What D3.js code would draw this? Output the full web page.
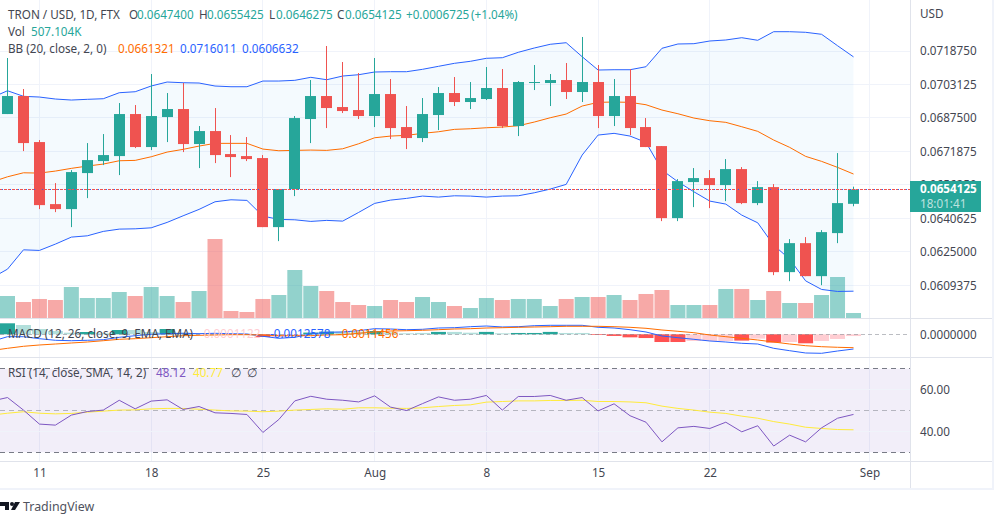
<!DOCTYPE html>
<html>
<head>
<meta charset="utf-8">
<script src="https://cdn.jsdelivr.net/npm/d3@7"></script>
<style>
  html, body { margin: 0; padding: 0; background: #fff; }
  svg { display: block; }
  text { font-family: "Noto Sans", sans-serif; font-size: 11.7px; }
</style>
</head>
<body>
<svg id="chart" width="1002" height="524"></svg>
<script>
// candles, Jul 9 .. Aug 31
var opens = [.068932,.069773,.067624,.064728,.064495,.066176,.066737,.066970,.068932,.067391,.068792,.069166,.067531,.068138,.067064,.066970,.066877,.063654,.065429,.068699,.069773,.069259,.069119,.068839,.069866,.068325,.067811,.068886,.069913,.069493,.069633,.070147,.068372,.070380,.070380,.070520,.069960,.070427,.068839,.069773,.068325,.067437,.064074,.065756,.065943,.065616,.066363,.064775,.065522,.061552,.062906,.061365,.063374,.0647400];
var highs = [.071548,.070100,.067718,.065709,.066316,.067577,.067998,.069446,.069352,.070800,.069913,.070380,.068372,.069212,.067951,.067858,.067017,.065429,.068839,.070520,.072108,.071361,.070847,.071548,.070567,.069306,.069679,.070193,.070660,.070427,.071127,.071034,.070473,.071221,.070800,.071314,.072529,.071221,.070567,.071034,.068745,.067437,.065896,.066410,.066316,.066830,.066456,.065802,.065662,.063093,.063187,.063514,.067110,.0655425];
var lows = [.068932,.067204,.064495,.064354,.063654,.065008,.066550,.066083,.067344,.067250,.067624,.067157,.066410,.066643,.065989,.066737,.063654,.063000,.065102,.067577,.068278,.068979,.068699,.068325,.067764,.067297,.067624,.068185,.069306,.069166,.069586,.068278,.067904,.070053,.069306,.069633,.069493,.068278,.068372,.067951,.067391,.063934,.063934,.064588,.064541,.064868,.064728,.064681,.061412,.061131,.061365,.060945,.062906,.0646275];
var closes = [.069773,.067577,.064681,.064495,.066223,.066783,.067017,.068932,.067391,.068839,.069166,.067531,.068138,.067017,.066924,.066830,.063654,.065429,.068745,.069773,.069212,.069072,.068839,.069866,.068278,.067811,.068932,.069913,.069493,.069679,.070147,.068372,.070427,.070427,.070520,.069960,.070427,.068839,.069773,.068278,.067391,.064074,.065802,.065943,.065616,.066363,.064775,.065522,.061552,.062906,.061365,.063420,.064775,.0654125];
var volumes = [2231,1622,1927,1825,3143,2028,2028,2636,2231,3143,2231,1622,2738,8011,710,608,1927,2332,4867,3245,2738,1622,1318,1217,1825,1622,2129,1622,1217,1014,2028,1825,1927,1927,1217,1927,2129,2129,2332,1825,2434,2839,1318,1318,1318,2941,2941,1825,2738,1521,1521,2332,4157,507.104];

// indicators start one day earlier (Jul 8), that point sits off the left edge
var bbUpper = [.069693,.070020,.069759,.069726,.069633,.069586,.069619,.069647,.069927,.069974,.070240,.070427,.070394,.070380,.070240,.070207,.070207,.070473,.070473,.070506,.070646,.070534,.070707,.070768,.070894,.070908,.070908,.071020,.071160,.071300,.071394,.071534,.071562,.071814,.072015,.072188,.072262,.071609,.070987,.071001,.071001,.071141,.072001,.072202,.072216,.072342,.072389,.072496,.072375,.072776,.072776,.072748,.072655,.072122,.0716011];
var bbMiddle = [.065756,.066003,.066190,.066176,.066270,.066396,.066503,.066597,.066751,.066769,.066937,.067157,.067283,.067437,.067563,.067563,.067563,.067297,.067218,.067236,.067250,.067236,.067311,.067545,.067825,.067904,.067937,.068031,.068105,.068217,.068245,.068292,.068325,.068386,.068558,.068759,.068932,.069306,.069478,.069493,.069478,.069366,.069119,.068946,.068745,.068619,.068544,.068339,.068124,.067718,.067377,.066956,.066723,.066442,.0661321];
var bbLower = [.061272,.061692,.062593,.062565,.062860,.063187,.063247,.063453,.063560,.063574,.063621,.063873,.064182,.064481,.064836,.064929,.064901,.064168,.064013,.063995,.063920,.063967,.063934,.064340,.064761,.064915,.064994,.065102,.065055,.065116,.065102,.065055,.065102,.065116,.065256,.065429,.065648,.067017,.067951,.068031,.067904,.067610,.066316,.065770,.065303,.064868,.064728,.064214,.063855,.062813,.062159,.061145,.060744,.060650,.0606632];

var macdLine = [-.000616,-.000205,-.000205,-.000376,-.000513,-.000548,-.000513,-.000462,-.000257,-.000120,0,.000051,.000086,.000051,.000086,.000051,.000026,-.000171,-.000342,-.000257,.000026,.000171,.000197,.000308,.000479,.000453,.000394,.000428,.000539,.000565,.000650,.000710,.000625,.000650,.000736,.000770,.000770,.000770,.000599,.000539,.000394,.000197,-.000145,-.000291,-.000428,-.000573,-.000659,-.000770,-.000830,-.001198,-.001403,-.001600,-.001626,-.001429,-.0012578];
var macdSignal = [-.001386,-.001198,-.001027,-.000915,-.000830,-.000744,-.000659,-.000548,-.000428,-.000376,-.000291,-.000205,-.000120,-.000086,-.000060,-.000034,-.000034,-.000060,-.000120,-.000120,-.000120,-.000060,-.000034,.000086,.000197,.000282,.000308,.000342,.000394,.000453,.000479,.000539,.000565,.000599,.000625,.000650,.000684,.000684,.000684,.000650,.000599,.000513,.000368,.000257,.000137,-.000060,-.000205,-.000342,-.000488,-.000659,-.000830,-.000975,-.001061,-.001112,-.0011456];
var macdHist = [.000941,.000796,.000453,.000282,.000137,.000197,.000086,.000368,.000368,.000197,.000453,.000137,.000086,.00004,.00003,.00003,-.000231,-.000222,-.000137,.000146,.000231,.000231,.000222,.000282,.000171,.000086,.000117,.000205,.000205,.000137,.000205,.000086,.000114,.000114,.000205,.000114,.000114,-.00006,-.00014,-.00026,-.00032,-.00066,-.00066,-.00057,-.00057,-.00057,-.00054,-.00037,-.00071,-.00066,-.00077,-.00057,-.00040,-.00015];
var macdHistDark = [1,0,0,0,0,1,0,1,0,0,1,0,0,0,0,0,1,0,0,1,1,0,0,1,0,0,0,1,0,0,1,0,1,1,1,0,0,1,1,1,1,1,1,0,0,0,1,0,1,0,1,0,0,0];

var rsiLine = [54.5,56.2,50.2,43.5,43.0,47.8,49.5,50.2,54.9,50.8,54.5,55.1,50.5,51.9,48.9,48.6,48.1,39.5,45.7,54.6,56.8,55.4,54.9,54.1,57.0,51.6,50.0,53.3,56.5,54.9,55.4,57.2,50.2,56.7,56.7,57.2,54.9,56.2,49.8,53.2,47.5,44.4,35.0,41.7,42.4,41.4,44.4,39.8,42.7,33.0,38.2,35.0,41.7,46.3,48.12];
var rsiSma = [47.8,48.7,49.4,48.7,48.4,48.6,49.2,49.7,50.2,50.3,50.8,51.0,51.0,50.6,50.2,49.8,49.7,49.4,49.7,50.2,50.5,50.8,50.6,51.3,51.3,51.1,51.0,51.3,51.9,52.4,52.7,54.0,54.3,54.6,54.6,54.8,54.8,54.9,54.3,54.3,54.1,53.7,52.1,51.0,50.2,49.2,48.6,47.3,46.3,44.7,43.5,42.0,41.4,40.9,40.77];

var timeTicks = [2, 9, 16, 23, 30, 37, 44, 54];
var timeLabels = ["11", "18", "25", "Aug", "8", "15", "22", "Sep"];
var priceTicks = [.071875, .0703125, .06875, .0671875, .065625, .0640625, .0625, .0609375];
var macdTicks = [0];
var rsiTicks = [60, 40];

var green = "#26a69a", red = "#ef5350", blue = "#2962ff", orange = "#ff6d00",
    purple = "#7e57c2", yellow = "#ffeb3b", textColor = "#434651", gridColor = "#f0f3fa", lineColor = "#e0e3eb";
var paneRight = 910, axisRight = 992;

var svg = d3.select("#chart");
var crisp = function(v) { return Math.round(v - 0.5) + 0.5; };

var x = d3.scaleLinear().domain([0, 53]).range([7.5, 853.5]);
var yPrice = d3.scaleLinear().domain([.071875, .0609375]).range([51, 285.3]);
var yVol = d3.scaleLinear().domain([0, 8011]).range([318, 239]);
var yMacd = d3.scaleLinear().domain([0, -.0012578]).range([334.3, 349]);
var yRsi = d3.scaleLinear().domain([70, 30]).range([368.7, 452.3]);

// indicator arrays hold Jul 8 at position 0
var xInd = function(d, i) { return x(i - 1); };
var days = d3.range(opens.length);
var isUp = function(i) { return closes[i] >= opens[i]; };

svg.append("clipPath").attr("id", "pane").append("rect")
    .attr("width", paneRight).attr("height", 490);
var plot = svg.append("g").attr("clip-path", "url(#pane)");

// grid
plot.selectAll(".vgrid").data(timeTicks).enter().append("line")
    .attr("x1", function(d) { return crisp(x(d)); })
    .attr("x2", function(d) { return crisp(x(d)); })
    .attr("y1", 0).attr("y2", 461)
    .attr("stroke", gridColor);
function hgrid(ticks, scale) {
    plot.append("g").selectAll("line").data(ticks).enter().append("line")
        .attr("x1", 0).attr("x2", paneRight)
        .attr("y1", function(d) { return crisp(scale(d)); })
        .attr("y2", function(d) { return crisp(scale(d)); })
        .attr("stroke", gridColor);
}
hgrid(priceTicks, yPrice);

// volume
plot.append("g").selectAll("rect").data(days).enter().append("rect")
    .attr("x", function(i) { return x(i) - 7.5; })
    .attr("width", 15)
    .attr("y", function(i) { return yVol(volumes[i]); })
    .attr("height", function(i) { return 318 - yVol(volumes[i]); })
    .attr("fill", function(i) { return isUp(i) ? green : red; })
    .attr("fill-opacity", 0.5);

// bollinger bands
var bandArea = d3.area().x(xInd)
    .y0(function(d, i) { return yPrice(bbLower[i]); })
    .y1(function(d, i) { return yPrice(d); });
plot.append("path").attr("d", bandArea(bbUpper)).attr("fill", "#2196f3").attr("fill-opacity", 0.05);

function drawLine(values, scale, color) {
    var line = d3.line().x(xInd).y(function(d) { return scale(d); });
    plot.append("path").attr("d", line(values))
        .attr("fill", "none").attr("stroke", color).attr("stroke-width", 1);
}
drawLine(bbUpper, yPrice, blue);
drawLine(bbLower, yPrice, blue);
drawLine(bbMiddle, yPrice, orange);

// candles
var candles = plot.append("g").selectAll("g").data(days).enter().append("g")
    .attr("fill", function(i) { return isUp(i) ? green : red; });
candles.append("rect")
    .attr("x", function(i) { return Math.round(x(i) - 0.5); })
    .attr("width", 1)
    .attr("y", function(i) { return yPrice(highs[i]); })
    .attr("height", function(i) { return yPrice(lows[i]) - yPrice(highs[i]); });
candles.append("rect")
    .attr("x", function(i) { return Math.round(x(i) - 0.5) - 5; })
    .attr("width", 11)
    .attr("y", function(i) { return yPrice(Math.max(opens[i], closes[i])); })
    .attr("height", function(i) { return Math.max(1, Math.abs(yPrice(opens[i]) - yPrice(closes[i]))); });

// last price line: mostly red dots, a blue pixel in each
var lastY = crisp(yPrice(closes[closes.length - 1]));
[[red, "3 1", 0], [blue, "1 7", -2]].forEach(function(s) {
    plot.append("line").attr("x1", 0).attr("x2", paneRight).attr("y1", lastY).attr("y2", lastY)
        .attr("stroke", s[0]).attr("stroke-dasharray", s[1]).attr("stroke-dashoffset", s[2]);
});

// macd pane
plot.append("g").selectAll("rect").data(macdHist).enter().append("rect")
    .attr("x", function(d, i) { return x(i) - 7.5; })
    .attr("width", 15)
    .attr("y", function(d) { return yMacd(Math.max(d, 0)); })
    .attr("height", function(d) { return Math.abs(yMacd(d) - yMacd(0)); })
    .attr("fill", function(d, i) {
        if (d >= 0) return macdHistDark[i] ? green : "#b2dfdb";
        return macdHistDark[i] ? "#ff5252" : "#ffcdd2";
    });
plot.append("line").attr("x1", 0).attr("x2", paneRight)
    .attr("y1", crisp(yMacd(0))).attr("y2", crisp(yMacd(0)))
    .attr("stroke", "#787b86").attr("stroke-opacity", 0.5).attr("stroke-dasharray", "4 3");
drawLine(macdLine, yMacd, blue);
drawLine(macdSignal, yMacd, orange);

// rsi pane
plot.append("rect").attr("x", 0).attr("width", paneRight)
    .attr("y", yRsi(70)).attr("height", yRsi(30) - yRsi(70))
    .attr("fill", purple).attr("fill-opacity", 0.1);
hgrid(rsiTicks, yRsi);
[[70, 1], [50, 0.5], [30, 1]].forEach(function(b) {
    plot.append("line").attr("x1", 0).attr("x2", paneRight)
        .attr("y1", crisp(yRsi(b[0]))).attr("y2", crisp(yRsi(b[0])))
        .attr("stroke", "#787b86").attr("stroke-opacity", b[1]).attr("stroke-dasharray", "5 4");
});
drawLine(rsiSma, yRsi, yellow);
drawLine(rsiLine, yRsi, purple);

// frame
var frame = svg.append("g").attr("stroke", lineColor);
frame.append("line").attr("x1", 0).attr("x2", axisRight).attr("y1", 318.5).attr("y2", 318.5);
frame.append("line").attr("x1", 0).attr("x2", axisRight).attr("y1", 357.5).attr("y2", 357.5);
frame.append("line").attr("x1", 0).attr("x2", axisRight).attr("y1", 461.5).attr("y2", 461.5);
frame.append("line").attr("x1", paneRight + 0.5).attr("x2", paneRight + 0.5).attr("y1", 0).attr("y2", 488);
svg.append("rect").attr("x", 0).attr("y", 488).attr("width", 994).attr("height", 2).attr("fill", gridColor);
svg.append("rect").attr("x", 992).attr("y", 0).attr("width", 2).attr("height", 490).attr("fill", gridColor);

// axes
function priceAxis(scale, ticks, fmt) {
    var g = svg.append("g").attr("transform", "translate(" + (paneRight + 2) + ",0)")
        .call(d3.axisRight(scale).tickValues(ticks).tickSize(0).tickPadding(8).tickFormat(fmt));
    g.select(".domain").remove();
    g.selectAll("text").attr("fill", textColor).style("font-size", "11.7px").style("font-family", "Noto Sans");
}
var fmt7 = function(d) { return d.toFixed(7); };
priceAxis(yPrice, priceTicks, fmt7);
priceAxis(yMacd, macdTicks, fmt7);
priceAxis(yRsi, rsiTicks, function(d) { return d.toFixed(2); });

var timeAxis = svg.append("g").attr("transform", "translate(0,469)")
    .call(d3.axisBottom(x).tickValues(timeTicks).tickSize(0).tickPadding(0)
        .tickFormat(function(d, i) { return timeLabels[i]; }));
timeAxis.select(".domain").remove();
timeAxis.selectAll("text").attr("fill", textColor).style("font-size", "11.7px").style("font-family", "Noto Sans");

// last price label
svg.append("rect").attr("x", paneRight).attr("y", 181).attr("width", 71).attr("height", 31).attr("fill", green);
svg.append("text").attr("x", 920).attr("y", 193).attr("fill", "#fff").attr("font-weight", "bold").text("0.0654125");
svg.append("text").attr("x", 920).attr("y", 208).attr("fill", "#fff").attr("fill-opacity", 0.7).text("18:01:41");
svg.append("text").attr("x", 920).attr("y", 18).attr("fill", textColor).text("USD");

// legends
var legend = [
    ["TRON / USD, 1D, FTX", 8, 19, textColor],
    ["O", 129, 19, textColor], ["0.0647400", 137, 19, green],
    ["H", 199, 19, textColor], ["0.0655425", 207, 19, green],
    ["L", 269, 19, textColor], ["0.0646275", 276, 19, green],
    ["C", 337, 19, textColor], ["0.0654125", 345, 19, green],
    ["+0.0006725", 406, 19, green], ["(+1.04%)", 471, 19, green],
    ["Vol", 8, 36, textColor], ["507.104K", 31, 36, green],
    ["BB (20, close, 2, 0)", 8, 53, textColor],
    ["0.0661321", 118, 53, orange], ["0.0716011", 180, 53, blue], ["0.0606632", 242, 53, blue],
    ["MACD (12, 26, close, 9, EMA, EMA)", 8, 338, textColor],
    ["-0.0001122", 200, 338, "#ffcdd2"], ["-0.0012578", 270, 338, blue], ["-0.0011456", 338, 338, orange],
    ["RSI (14, close, SMA, 14, 2)", 8, 377, textColor],
    ["48.12", 156, 377, purple], ["40.77", 193, 377, yellow],
    ["∅", 231, 377, textColor], ["∅", 247, 377, textColor]
];
svg.append("g").selectAll("text").data(legend).enter().append("text")
    .attr("x", function(d) { return d[1]; })
    .attr("y", function(d) { return d[2]; })
    .attr("fill", function(d) { return d[3]; })
    .text(function(d) { return d[0]; });

// tradingview mark
var logo = svg.append("g").attr("fill", "#131722");
logo.append("path").attr("d", "M0 502H9V510H5V506H0Z");
logo.append("circle").attr("cx", 12).attr("cy", 504).attr("r", 2);
logo.append("path").attr("d", "M15 502H20L15 510H11Z");
svg.append("text").attr("x", 23).attr("y", 511).attr("fill", "#50535e")
    .style("font-size", "12.4px").text("TradingView");
</script>
</body>
</html>
